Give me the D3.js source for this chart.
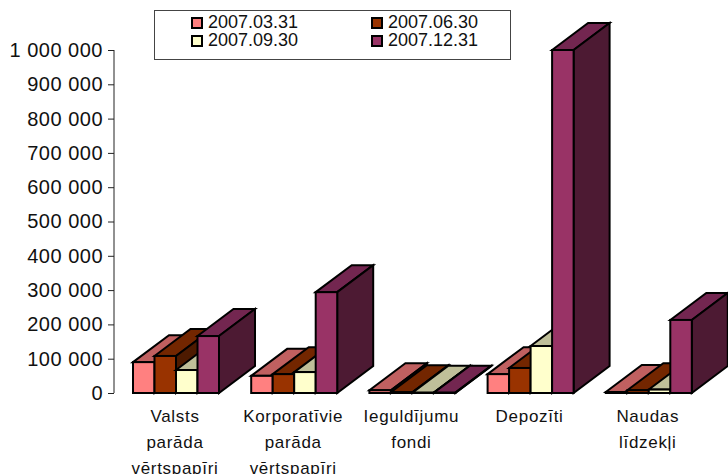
<!DOCTYPE html>
<html lang="en">
<head>
    <meta charset="UTF-8">
    <script src="https://cdnjs.cloudflare.com/ajax/libs/d3/7.8.5/d3.min.js"></script>
    <style>
        html, body { margin: 0; padding: 0; background: #fff; overflow: hidden; }
        text { font-family: "Liberation Sans", Arial, sans-serif; fill: #111; }
    </style>
</head>
<body>
<div id="chart"></div>
<script>
    var categories = [
        ["Valsts", "parāda", "vērtspapīri"],
        ["Korporatīvie", "parāda", "vērtspapīri"],
        ["Ieguldījumu", "fondi"],
        ["Depozīti"],
        ["Naudas", "līdzekļi"]
    ];
    var seriesNames = ["2007.03.31", "2007.06.30", "2007.09.30", "2007.12.31"];
    var s1 = [90000, 50000, 8000, 55000, 3000];
    var s2 = [108000, 55000, 2000, 73000, 8000];
    var s3 = [67000, 61000, 1000, 137000, 10000];
    var s4 = [166000, 294000, 1000, 1000000, 213000];
    var allSeries = [s1, s2, s3, s4];
    var tickValues = [0, 100000, 200000, 300000, 400000, 500000, 600000, 700000, 800000, 900000, 1000000];

    var front = ["#ff8080", "#993300", "#ffffcc", "#993366"];
    var top_ = ["#c06060", "#732600", "#bfbf99", "#732650"];
    var side = ["#804040", "#4d1a00", "#808066", "#4d1a33"];

    var width = 728, height = 474;
    var depthX = 36, depthY = 27;

    var svg = d3.select("#chart").append("svg")
        .attr("width", width)
        .attr("height", height)
        .style("display", "block");

    var y = d3.scaleLinear().domain([0, 1000000]).range([393, 50]);
    var x0 = d3.scaleBand().domain(d3.range(categories.length)).range([115, 706]);
    var x1 = d3.scaleBand().domain(d3.range(allSeries.length)).range([18, 104]);

    function fmt(v) {
        return d3.format(",")(v).replace(/,/g, " ");
    }

    var yAxis = d3.axisLeft(y).tickValues(tickValues).tickFormat(fmt).tickSize(6).tickPadding(5);
    var gy = svg.append("g").attr("transform", "translate(114,0)").call(yAxis);
    gy.select(".domain").attr("stroke", "#222").attr("d", "M0,50V393");
    gy.selectAll(".tick line").attr("stroke", "#222");
    gy.selectAll(".tick text")
        .attr("font-size", 20)
        .style("letter-spacing", "0.5px")
        .style("font-family", '"Liberation Sans", Arial, sans-serif');

    // left to right, so each bar covers the side of the one before it
    categories.forEach(function (cat, c) {
        allSeries.forEach(function (vals, s) {
            var bx = x0(c) + x1(s), bw = x1.bandwidth();
            var ty = y(vals[c]), by = y(0);
            var g = svg.append("g").attr("stroke", "#000").attr("stroke-width", 2).attr("stroke-linejoin", "miter");
            g.append("path")
                .attr("fill", top_[s])
                .attr("d", d3.line()([[bx, ty], [bx + depthX, ty - depthY], [bx + bw + depthX, ty - depthY], [bx + bw, ty]]) + "Z");
            g.append("path")
                .attr("fill", side[s])
                .attr("d", d3.line()([[bx + bw, ty], [bx + bw + depthX, ty - depthY], [bx + bw + depthX, by - depthY], [bx + bw, by]]) + "Z");
            g.append("rect")
                .attr("x", bx).attr("y", ty)
                .attr("width", bw).attr("height", by - ty)
                .attr("fill", front[s]);
        });
    });

    // category labels, one line per row
    categories.forEach(function (cat, c) {
        cat.forEach(function (line, i) {
            svg.append("text")
                .attr("x", x0(c) + 60)
                .attr("y", 422 + i * 26)
                .attr("text-anchor", "middle")
                .attr("font-size", 17)
                .style("letter-spacing", "0.7px")
                .text(line);
        });
    });

    // legend
    svg.append("rect")
        .attr("x", 154.5).attr("y", 10.5)
        .attr("width", 356).attr("height", 49)
        .attr("fill", "#fff").attr("stroke", "#444");
    var legX = d3.scaleOrdinal().domain([0, 1]).range([192, 372]);
    var legY = d3.scaleOrdinal().domain([0, 1]).range([18, 36]);
    seriesNames.forEach(function (name, i) {
        var col = i % 2, row = Math.floor(i / 2);
        svg.append("rect")
            .attr("x", legX(col)).attr("y", legY(row))
            .attr("width", 10).attr("height", 10)
            .attr("fill", front[i]).attr("stroke", "#000").attr("stroke-width", 2);
        svg.append("text")
            .attr("x", legX(col) + 16).attr("y", legY(row) + 10)
            .attr("font-size", 18)
            .text(name);
    });
</script>
</body>
</html>
